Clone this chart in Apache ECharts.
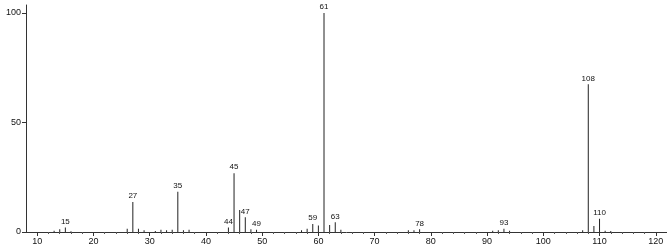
<!DOCTYPE html>
<html>
<head>
<meta charset="utf-8">
<script src="https://cdn.jsdelivr.net/npm/echarts@6/dist/echarts.min.js"></script>
<style>html,body{margin:0;padding:0;background:#fff}#c{width:667px;height:249px}</style>
</head>
<body>
<div id="c"></div>
<script>
const mz = [13,14,15,16,26,27,28,29,31,32,33,34,35,36,37,44,45,46,47,48,49,57,58,59,60,61,62,63,64,76,77,78,91,92,93,94,107,108,109,110,111,112];
const intensity = [0.6,1.2,2.0,0.3,1.5,13.7,1.5,0.8,0.5,1.0,0.8,1.0,18.4,0.8,1.0,2.0,26.8,10.0,6.7,1.2,1.0,0.8,1.5,3.7,3.0,100,3.2,4.4,1.0,0.8,0.8,1.2,0.6,0.8,1.5,0.6,0.8,67.4,2.7,6.0,0.6,0.5];
const labeledMz = [15,27,35,44,45,47,49,59,61,63,78,93,108,110];
const xTicks = [10,20,30,40,50,60,70,80,90,100,110,120];
const xMinorTicks = [12,14,16,18,22,24,26,28,32,34,36,38,42,44,46,48,52,54,56,58,62,64,66,68,72,74,76,78,82,84,86,88,92,94,96,98,102,104,106,108,112,114,116,118];
const yTicks = [0,50,100];

const font = 'Liberation Sans';
const data = mz.map((m, i) => ({
  value: [m, intensity[i]],
  label: { show: labeledMz.includes(m) }
}));

const chart = echarts.init(document.getElementById('c'));
chart.setOption({
  animation: false,
  grid: { left: 26, right: 0, top: 5, bottom: 17 },
  xAxis: [{
    type: 'value', min: 8, max: 122,
    axisLine: { lineStyle: { color: '#333', width: 1 } },
    axisTick: { customValues: xTicks, length: 4, lineStyle: { color: '#333' } },
    axisLabel: { customValues: xTicks, margin: 5, fontFamily: font, fontSize: 9, color: '#111' },
    splitLine: { show: false }
  }, {
    type: 'value', min: 8, max: 122, position: 'bottom',
    axisLine: { show: false },
    axisTick: { customValues: xMinorTicks, length: 2, lineStyle: { color: '#555' } },
    axisLabel: { show: false },
    splitLine: { show: false }
  }],
  yAxis: {
    type: 'value', min: 0, max: 103.6,
    axisLine: { show: true, lineStyle: { color: '#333', width: 1 } },
    axisTick: { show: true, customValues: yTicks, length: 4, lineStyle: { color: '#333' } },
    axisLabel: { customValues: yTicks, margin: 5, fontFamily: font, fontSize: 9, color: '#111' },
    splitLine: { show: false }
  },
  series: [{
    type: 'bar',
    xAxisIndex: 0,
    barWidth: 1,
    itemStyle: { color: '#222' },
    label: { position: 'top', distance: 2, fontFamily: font, fontSize: 8, color: '#111', formatter: p => p.value[0] },
    data: data
  }]
});
</script>
</body>
</html>
